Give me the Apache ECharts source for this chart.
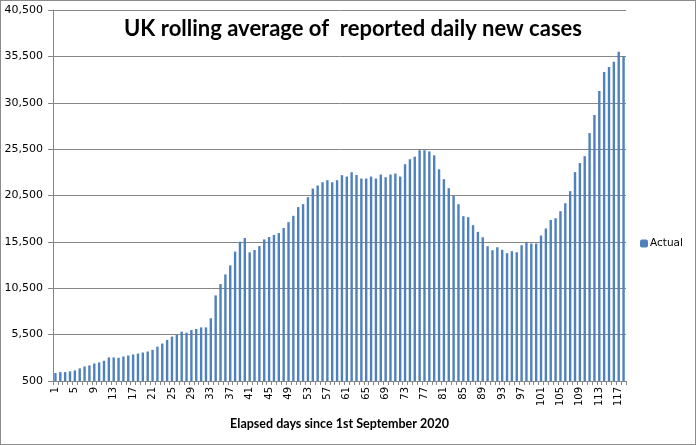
<!DOCTYPE html>
<html>
<head>
<meta charset="utf-8">
<script src="https://cdn.jsdelivr.net/npm/echarts@6/dist/echarts.min.js"></script>
<style>
    html, body { margin: 0; padding: 0; background: #fff; }
    #chart { width: 696px; height: 445px; box-sizing: border-box; border: 1px solid #8c8c8c; }
</style>
</head>
<body>
<div id="chart"></div>
<script>
    // elapsed day numbers 1..118
    var days = [];
    for (var d = 1; d <= 118; d++) {
        days.push(String(d));
    }

    // rolling average of reported daily new cases
    var actual = [
        1360, 1460, 1460, 1540, 1640, 1860, 2070, 2180, 2390, 2500,
        2680, 3040, 3040, 3000, 3140, 3250, 3360, 3460, 3570, 3680,
        3860, 4210, 4540, 4930, 5290, 5460, 5820, 5710, 6000, 6110,
        6280, 6280, 7260, 9730, 10950, 11990, 12970, 14450, 15520, 15910,
        14370, 14620, 15050, 15770, 16020, 16240, 16450, 16990, 17630, 18310,
        19250, 19570, 20320, 21250, 21580, 21930, 22150, 21930, 22150, 22690,
        22540, 23010, 22720, 22330, 22330, 22540, 22330, 22760, 22470, 22760,
        22870, 22540, 23870, 24410, 24690, 25380, 25380, 25250, 24830, 23330,
        22260, 21290, 20460, 19560, 18270, 18160, 17300, 16580, 16000, 15030,
        14600, 14920, 14640, 14280, 14490, 14380, 15140, 15500, 15320, 15320,
        16180, 16940, 17870, 18050, 18810, 19670, 20970, 23020, 23990, 24740,
        27230, 29170, 31760, 33810, 34350, 34920, 36000, 35500
    ];

    var yMin = 500;
    var yMax = 40500;
    var yStep = 5000;

    var myChart = echarts.init(document.getElementById('chart'));
    var option = {
        animation: false,
        title: {
            text: 'UK rolling average of  reported daily new cases',
            left: 347,
            top: 12,
            textAlign: 'center',
            textStyle: {
                fontFamily: 'Lato',
                fontWeight: 'bold',
                fontSize: 22,
                color: '#000'
            }
        },
        legend: {
            orient: 'vertical',
            left: 634,
            top: 232,
            itemWidth: 8,
            itemHeight: 8,
            itemGap: 4,
            data: ['Actual'],
            textStyle: { fontFamily: 'DejaVu Sans', fontSize: 10.5, color: '#000', padding: [0, 0, 0, -3] }
        },
        grid: {
            left: 52,
            right: 69,
            top: 9,
            bottom: 63,
            containLabel: false
        },
        xAxis: {
            type: 'category',
            data: days,
            name: 'Elapsed days since 1st September 2020',
            nameLocation: 'middle',
            nameGap: 36,
            nameTextStyle: { fontFamily: 'Lato', fontWeight: 'bold', fontSize: 12.5, color: '#000' },
            axisLine: { lineStyle: { color: '#868686', width: 1 } },
            axisTick: { show: true, interval: 0, length: 4, lineStyle: { color: '#868686' } },
            axisLabel: {
                interval: 3,
                rotate: 90,
                margin: 6,
                fontFamily: 'DejaVu Sans',
                fontSize: 10,
                color: '#000'
            },
            splitLine: { show: false }
        },
        yAxis: {
            type: 'value',
            min: yMin,
            max: yMax,
            interval: yStep,
            axisLine: { show: true, lineStyle: { color: '#868686', width: 1 } },
            axisTick: { show: true, length: 5, lineStyle: { color: '#868686' } },
            axisLabel: {
                margin: 10,
                fontFamily: 'DejaVu Sans',
                fontSize: 11,
                color: '#000',
                formatter: function (v) {
                    return v.toLocaleString('en-US');
                }
            },
            splitLine: { lineStyle: { color: '#868686', width: 1 } }
        },
        series: [
            {
                name: 'Actual',
                type: 'bar',
                data: actual,
                barWidth: 2.4,
                itemStyle: { color: '#4f81bd' }
            }
        ]
    };

    myChart.setOption(option);
</script>
</body>
</html>
